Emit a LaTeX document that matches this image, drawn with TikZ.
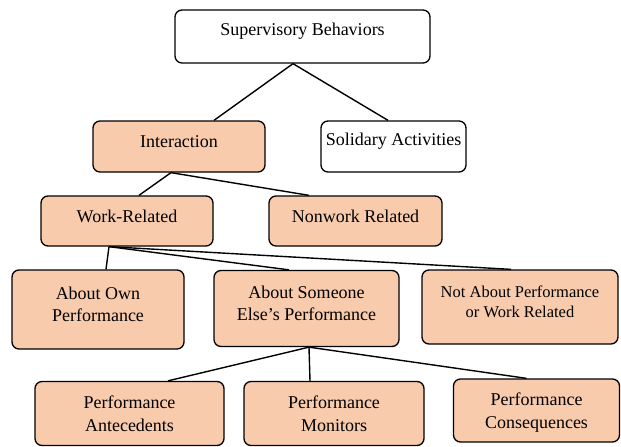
\documentclass[tikz,border=0pt]{standalone}
\usepackage{fontspec}
\setmainfont{Liberation Serif}
\usetikzlibrary{positioning}
\definecolor{peach}{HTML}{F8CBAD}

\begin{document}
\begin{tikzpicture}[
    x=1pt, y=-1pt,
    cat/.style={
        draw, rounded corners=7pt, line width=1.3pt, fill=peach, inner sep=0pt
    },
    plain/.style={cat, fill=white},
    dims/.style 2 args={minimum width=#1, minimum height=#2},
    txt/.style={align=center, font=\fontsize{18}{22.5}\selectfont},
    uptxt/.style={txt, yshift=5pt},
    txtsm/.style={uptxt, font=\fontsize{16.5}{20}\selectfont},
    conn/.style={line width=1.4pt},
]
\useasboundingbox (0,0) rectangle (621,447);

% Top level
\node[plain, dims={255pt}{53pt},
      label={[uptxt]center:Supervisory Behaviors}] (sup) at (302.5,36.5) {};

% Second level
\node[cat, dims={172pt}{51pt},
      label={[uptxt]center:Interaction}] (inter) at (179,146.5) {};
\node[plain, dims={145pt}{51pt},
      label={[uptxt]center:Solidary Activities}] (soli) at (393.5,146.5) {};

% Kinds of interaction
\node[cat, dims={172pt}{50pt},
      label={[uptxt]center:Work-Related}] (work) at (127,221) {};
\node[cat, dims={173pt}{50pt},
      label={[uptxt]center:Nonwork Related}] (nonwork) at (355.5,221) {};

% Work-related topics
\node[cat, dims={172pt}{79pt},
      label={[uptxt]center:About Own\\Performance}] (own) at (98,309.5) {};
\node[cat, dims={185pt}{76pt},
      label={[uptxt]center:About Someone\\Else’s Performance}] (else) at (306.5,308.5) {};
\node[cat, dims={196pt}{74pt},
      label={[txtsm]center:Not About Performance\\or Work Related}] (notab) at (520,307) {};

% Performance topics
\node[cat, dims={189pt}{64pt},
      label={[txt]center:Performance\\Antecedents}] (ante) at (129.5,413.5) {};
\node[cat, dims={180pt}{64pt},
      label={[txt]center:Performance\\Monitors}] (moni) at (334,413.5) {};
\node[cat, dims={166pt}{63pt},
      label={[txt, yshift=-2pt]center:Performance\\Consequences}] (cons) at (536.5,410.5) {};

% Connections
\draw[conn] ([xshift=-9.5pt]sup.south)  -- ([xshift=35pt]inter.north);
\draw[conn] ([xshift=-9.5pt]sup.south)  -- ([xshift=-5.5pt]soli.north);
\draw[conn] ([xshift=-8pt]inter.south)  -- ([xshift=12pt]work.north);
\draw[conn] ([xshift=-8pt]inter.south)  -- ([xshift=-46.5pt]nonwork.north);
\draw[conn] ([xshift=-18pt]work.south)  -- ([xshift=8pt]own.north);
\draw[conn] ([xshift=-18pt]work.south)  -- ([xshift=-17.5pt]else.north);
\draw[conn] ([xshift=-18pt]work.south)  -- ([xshift=-9pt]notab.north);
\draw[conn] ([xshift=2.5pt]else.south)  -- ([xshift=38.5pt]ante.north);
\draw[conn] ([xshift=2.5pt]else.south)  -- ([xshift=-24pt]moni.north);
\draw[conn] ([xshift=2.5pt]else.south)  -- ([xshift=-10pt]cons.north);

\end{tikzpicture}
\end{document}
